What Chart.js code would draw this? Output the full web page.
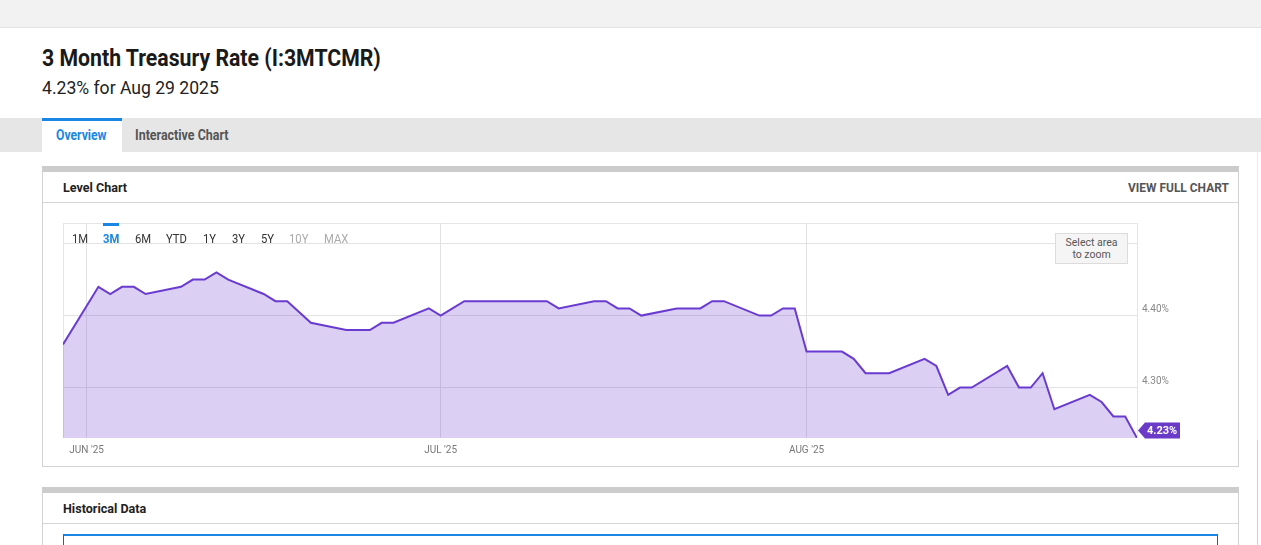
<!DOCTYPE html>
<html>
<head>
<meta charset="utf-8">
<script src="https://cdn.jsdelivr.net/npm/chart.js@4"></script>
<style>
  body { margin: 0; width: 1261px; height: 545px; overflow: hidden; background: #fff; font-family: Roboto, sans-serif; position: relative; }
  .abs { position: absolute; white-space: nowrap; }
  .cond { display: inline-block; transform: scaleX(.85); transform-origin: 0 50%; }
  .topband { left: 0; top: 0; width: 1261px; height: 27px; background: #f2f2f2; border-bottom: 1px solid #e2e2e2; }
  .title { left: 42px; top: 44px; font-size: 24px; font-weight: 700; color: #1a1a1a; line-height: 28px; }
  .subtitle { left: 42px; top: 77px; font-size: 18.5px; color: #222; line-height: 22px; }
  .tabs { left: 0; top: 118px; width: 1261px; height: 34px; background: #e6e6e6; }
  .tab-on { left: 42px; top: 118px; width: 80px; height: 31px; background: #fff; border-top: 3px solid #1a86e4; }
  .tabtxt { top: 127px; font-size: 14px; font-weight: 700; line-height: 16px; }
  .panel { border: 1px solid #d2d2d2; border-top: 6px solid #cccccc; box-sizing: border-box; }
  .phead { font-size: 13.5px; font-weight: 700; color: #222; line-height: 16px; }
  .hline { height: 1px; background: #d6d6d6; }
  .rng { top: 232px; font-size: 12.5px; color: #333; line-height: 14px; }
  .zoombox { left: 1055px; top: 233px; width: 73px; height: 31px; background: #f5f5f5; border: 1px solid #dcdcdc; box-sizing: border-box; font-size: 10.5px; color: #555; text-align: center; line-height: 12px; padding-top: 3px; }
  #wrap { left: 63px; top: 223px; width: 1127px; height: 237px; }
  .plotbox { left: 63px; top: 223px; width: 1075px; height: 215px; border: 1px solid #e6e6e6; border-bottom: none; box-sizing: border-box; }
</style>
</head>
<body>
<script>
// 3 Month Treasury Rate, daily, May 30 2025 - Aug 29 2025
const dates = [
  '2025-05-30', '2025-06-02', '2025-06-03', '2025-06-04', '2025-06-05', '2025-06-06',
  '2025-06-09', '2025-06-10', '2025-06-11', '2025-06-12', '2025-06-13',
  '2025-06-16', '2025-06-17', '2025-06-18', '2025-06-20',
  '2025-06-23', '2025-06-24', '2025-06-25', '2025-06-26', '2025-06-27',
  '2025-06-30', '2025-07-01', '2025-07-02', '2025-07-03',
  '2025-07-07', '2025-07-08', '2025-07-09', '2025-07-10', '2025-07-11',
  '2025-07-14', '2025-07-15', '2025-07-16', '2025-07-17', '2025-07-18',
  '2025-07-21', '2025-07-22', '2025-07-23', '2025-07-24', '2025-07-25',
  '2025-07-28', '2025-07-29', '2025-07-30', '2025-07-31', '2025-08-01',
  '2025-08-04', '2025-08-05', '2025-08-06', '2025-08-07', '2025-08-08',
  '2025-08-11', '2025-08-12', '2025-08-13', '2025-08-14', '2025-08-15',
  '2025-08-18', '2025-08-19', '2025-08-20', '2025-08-21', '2025-08-22',
  '2025-08-25', '2025-08-26', '2025-08-27', '2025-08-28', '2025-08-29'
];
const rates = [
  4.36, 4.44, 4.43, 4.44, 4.44, 4.43,
  4.44, 4.45, 4.45, 4.46, 4.45,
  4.43, 4.42, 4.42, 4.39,
  4.38, 4.38, 4.38, 4.39, 4.39,
  4.41, 4.40, 4.41, 4.42,
  4.42, 4.42, 4.42, 4.42, 4.41,
  4.42, 4.42, 4.41, 4.41, 4.40,
  4.41, 4.41, 4.41, 4.42, 4.42,
  4.40, 4.40, 4.41, 4.41, 4.35,
  4.35, 4.34, 4.32, 4.32, 4.32,
  4.34, 4.33, 4.29, 4.30, 4.30,
  4.33, 4.30, 4.30, 4.32, 4.27,
  4.29, 4.28, 4.26, 4.26, 4.23
];
const monthTicks = ['2025-06-01', '2025-07-01', '2025-08-01'];
const monthLabels = ["JUN '25", "JUL '25", "AUG '25"];
const yTicks = [4.30, 4.40, 4.50];
const yLabels = ['4.30%', '4.40%', ''];
const rangeButtons = ['1M', '3M', '6M', 'YTD', '1Y', '3Y', '5Y', '10Y', 'MAX'];
</script>

<div class="abs topband"></div>
<div class="abs title"><span class="cond" style="transform:scaleX(.885)">3 Month Treasury Rate (I:3MTCMR)</span></div>
<div class="abs subtitle"><span class="cond" style="transform:scaleX(.95)">4.23% for Aug 29 2025</span></div>

<div class="abs tabs"></div>
<div class="abs tab-on"></div>
<div class="abs tabtxt" style="left:56px;color:#1a86e4"><span class="cond" style="transform:scaleX(.87)">Overview</span></div>
<div class="abs tabtxt" style="left:135px;color:#555"><span class="cond" style="transform:scaleX(.89)">Interactive Chart</span></div>

<div class="abs panel" style="left:42px;top:166px;width:1197px;height:301px"></div>
<div class="abs phead" style="left:63px;top:179px"><span class="cond" style="transform:scaleX(.93)">Level Chart</span></div>
<div class="abs phead" style="left:1128px;top:179px;color:#555"><span class="cond" style="transform:scaleX(.885)">VIEW FULL CHART</span></div>
<div class="abs hline" style="left:43px;top:202px;width:1195px"></div>

<div class="abs plotbox"></div>
<div class="abs" id="wrap"><canvas id="c"></canvas></div>
<div id="ranges"></div>
<div class="abs zoombox">Select area<br>to zoom</div>

<div class="abs panel" style="left:42px;top:487px;width:1197px;height:80px"></div>
<div class="abs phead" style="left:63px;top:500px"><span class="cond" style="transform:scaleX(.93)">Historical Data</span></div>
<div class="abs hline" style="left:43px;top:523px;width:1195px"></div>
<div class="abs" style="left:63px;top:534px;width:1155px;height:20px;border-top:2px solid #1a86e4;border-left:1px solid #555;border-right:1px solid #555;box-sizing:border-box"></div>

<div class="abs" style="left:1257px;top:152px;width:1px;height:288px;background:#eeeeee"></div>
<div class="abs" style="left:1257px;top:440px;width:1px;height:105px;background:#d0d0d0"></div>

<script>
const rangeX = [72, 103, 135, 166, 203, 232, 261, 289, 324];
const rangeHtml = rangeButtons.map((r, i) => {
  let style = 'left:' + rangeX[i] + 'px;';
  if (r === '3M') style += 'color:#1a86e4;font-weight:700;';
  if (r === '10Y' || r === 'MAX') style += 'color:#aaa;';
  return '<div class="abs rng" style="' + style + '"><span class="cond" style="transform:scaleX(.9)">' + r + '</span></div>';
}).join('');
document.getElementById('ranges').innerHTML = rangeHtml +
  '<div class="abs" style="left:103px;top:223px;width:16px;height:3px;background:#1a86e4"></div>';

const base = Date.UTC(2025, 5, 1);
const dayOf = s => {
  const p = s.split('-').map(Number);
  return (Date.UTC(p[0], p[1] - 1, p[2]) - base) / 86400000;
};
const points = dates.map((d, i) => ({ x: dayOf(d), y: rates[i] }));
const xTickVals = monthTicks.map(dayOf);

const lineColor = '#6a3bd0';

const lastTag = {
  id: 'lastTag',
  afterDatasetsDraw(chart) {
    const ctx = chart.ctx;
    const meta = chart.getDatasetMeta(0);
    const pt = meta.data[meta.data.length - 1];
    const area = chart.chartArea;
    const cy = Math.min(pt.y, area.bottom - 7.5);
    const x0 = area.right + 1;
    ctx.save();
    ctx.fillStyle = '#6a3bc8';
    ctx.beginPath();
    ctx.moveTo(x0, cy);
    ctx.lineTo(x0 + 7, cy - 8);
    ctx.lineTo(x0 + 42, cy - 8);
    ctx.lineTo(x0 + 42, cy + 8);
    ctx.lineTo(x0 + 7, cy + 8);
    ctx.closePath();
    ctx.fill();
    ctx.fillStyle = '#fff';
    ctx.font = 'bold 11px Roboto';
    ctx.textBaseline = 'middle';
    ctx.textAlign = 'left';
    ctx.fillText(rates[rates.length - 1].toFixed(2) + '%', x0 + 9, cy + 0.5);
    ctx.restore();
  }
};

// scales get fixed sizes and no edge padding so the plot area lines up with the box
const noPad = s => { s.paddingTop = 0; s.paddingBottom = 0; s.paddingLeft = 0; s.paddingRight = 0; };

new Chart(document.getElementById('c'), {
  type: 'line',
  data: {
    datasets: [{
      data: points,
      borderColor: lineColor,
      borderWidth: 2,
      backgroundColor: 'rgba(106, 59, 208, 0.24)',
      fill: 'start',
      pointRadius: 0,
      tension: 0
    }]
  },
  options: {
    responsive: true,
    maintainAspectRatio: false,
    animation: false,
    layout: { padding: 0 },
    plugins: { legend: { display: false }, tooltip: { enabled: false } },
    scales: {
      x: {
        type: 'linear',
        min: dayOf('2025-05-30'),
        max: dayOf('2025-08-29'),
        afterBuildTicks: s => { s.ticks = xTickVals.map(v => ({ value: v })); },
        afterFit: s => { s.height = 22; noPad(s); },
        grid: { color: '#e2e2e2', drawTicks: false },
        border: { display: false },
        ticks: {
          padding: 6,
          color: '#777',
          font: { family: 'Roboto', size: 10 },
          maxRotation: 0,
          callback: v => monthLabels[xTickVals.indexOf(v)]
        }
      },
      y: {
        position: 'right',
        min: 4.23,
        max: 4.5286,
        afterBuildTicks: s => { s.ticks = yTicks.map(v => ({ value: v })); },
        afterFit: s => { s.width = 53; noPad(s); },
        grid: { color: '#e2e2e2', drawTicks: false },
        border: { display: false },
        ticks: {
          padding: 5,
          labelOffset: -6,
          color: '#888',
          font: { family: 'Roboto', size: 10 },
          callback: v => yLabels[yTicks.findIndex(t => Math.abs(t - v) < 1e-6)]
        }
      }
    }
  },
  plugins: [lastTag]
});
</script>
</body>
</html>
